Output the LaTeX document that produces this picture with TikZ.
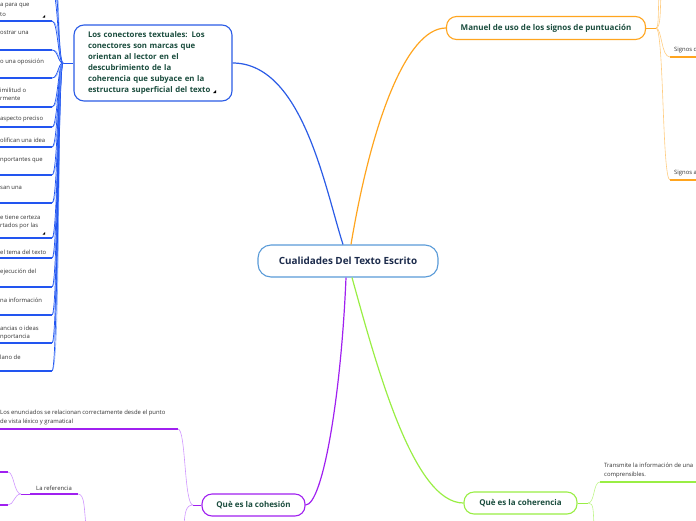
\documentclass[tikz,border=0pt]{standalone}
\usepackage{fontspec}
\setmainfont{Open Sans}
\definecolor{bdeep}{HTML}{2255F0}
\definecolor{blight}{HTML}{8AB0FF}
\definecolor{bmain}{HTML}{2B5CE6}
\definecolor{cenb}{HTML}{5A9BD8}
\definecolor{navy}{HTML}{1C2B4B}
\definecolor{ngreen}{HTML}{1B4D3E}
\definecolor{txtg}{HTML}{333333}
\definecolor{oran}{HTML}{FFA51F}
\definecolor{oranl}{HTML}{FFCC80}
\definecolor{purp}{HTML}{A020F0}
\definecolor{purpl}{HTML}{CF96FF}
\definecolor{grn}{HTML}{99EE44}
\definecolor{grnl}{HTML}{BFF58A}
\tikzset{
  topic/.style={draw, rounded corners=10pt, line width=1.1pt, fill=white,
    font=\bfseries\fontsize{8}{11}\selectfont, text=ngreen, inner sep=0pt, align=center},
  smalltxt/.style={font=\fontsize{5.9}{8.7}\selectfont, text=txtg, inner sep=0pt, anchor=west},
  under/.style={line width=1.5pt},
  thinlink/.style={line width=0.6pt},
  mainlink/.style={line width=1.2pt},
}
\begin{document}
\begin{tikzpicture}[x=1pt,y=-1pt]
\useasboundingbox (0,0) rectangle (696,520);

% ---------- central and topic nodes ----------
\node[topic, draw=cenb, text=navy, font=\bfseries\fontsize{9.9}{11}\selectfont,
  minimum width=180pt, minimum height=32pt, rounded corners=13pt] (cen) at (348,261) {Cualidades Del Texto Escrito};
\node[topic, draw=bmain, align=left, text width=130pt, inner xsep=14pt,
  minimum height=76pt, minimum width=158pt, font=\bfseries\fontsize{7.8}{11}\selectfont] (con) at (153,63)
  {Los conectores textuales: Los\\conectores son marcas que\\orientan al lector en el\\descubrimiento de la\\coherencia que subyace en la\\estructura superficial del texto};
\node[topic, draw=oran, minimum width=199pt, minimum height=23pt] (man) at (546,28) {Manuel de uso de los signos de puntuación};
\node[topic, draw=purp, minimum width=103pt, minimum height=22pt] (coh) at (253.5,505) {Què es la cohesión};
\node[topic, draw=grn, minimum width=113pt, minimum height=22pt] (coher) at (520.5,503) {Què es la coherencia};
\fill (213,93) -- (216,93) -- (216,90) -- cycle;

% ---------- main connectors ----------
\draw[mainlink, bmain] (con.east) .. controls +(70,0) and +(-18,-56) .. ([xshift=-5pt]cen.north);
\draw[mainlink, oran] ([xshift=3pt]cen.north) .. controls +(20,-120) and +(-40,0) .. (man.west);
\draw[mainlink, purp] ([xshift=-2pt]cen.south) .. controls +(-5,120) and +(17,0) .. (coh.east);
\draw[mainlink, grn] ([xshift=4pt]cen.south) .. controls +(25,90) and +(-50,0) .. (coher.west);

% ---------- left blue column ----------
\coordinate (bhub) at (63,63);
\draw[thinlink, bdeep] (bhub) -- (con.west);
\foreach \n/\u in {0/-10,00/-38,1/21,2/50,3/78,4/107,5/127,6/147,7/175,8/203,9/238,10/258,11/287,12/315,13/343,14/371}{
  \coordinate (ua\n) at (0,\u);
  \coordinate (ub\n) at (52,\u);
  \draw[under, bdeep] (ua\n) -- (ub\n);
  \draw[thinlink, blight] (ub\n) .. controls +(9,0) and +(-6,0) .. (bhub);
  \draw[line width=0.7pt, bdeep] (ub\n) .. controls +(6,0) and +(-5,0) .. (bhub);
}
\node[smalltxt] (l1a) at (0,6) {a para que};
\node[smalltxt] (l1b) at (0,15) {to};
\fill (42.5,17.5) -- (45,17.5) -- (45,15) -- cycle;
\node[smalltxt] (l2) at (0,33) {ostrar una};
\node[smalltxt] (l3) at (0,62) {o una oposición};
\node[smalltxt] (l4a) at (0,90) {imilitud o};
\node[smalltxt] (l4b) at (0,99) {rmente};
\node[smalltxt] (l5) at (0,119) {aspecto preciso};
\node[smalltxt] (l6) at (0,140) {olifican una idea};
\node[smalltxt] (l7) at (0,160) {nportantes que};
\node[smalltxt] (l8) at (0,188) {san una};
\node[smalltxt] (l9a) at (0,217) {e tiene certeza};
\node[smalltxt] (l9b) at (0,225.5) {rtados por las};
\fill (42.5,234.5) -- (45,234.5) -- (45,232) -- cycle;
\node[smalltxt] (l10) at (0,252) {el tema del texto};
\node[smalltxt] (l11) at (0,272) {ejecución del};
\node[smalltxt] (l12) at (0,300) {na información};
\node[smalltxt] (l13a) at (0,328) {ancias o ideas};
\node[smalltxt] (l13b) at (0,337) {nportancia};
\node[smalltxt] (l14) at (0,357) {lano de};

% ---------- purple (cohesion) ----------
\coordinate (phub) at (193,505);
\draw[thinlink, purp] (phub) -- (coh.west);
\coordinate (pe1a) at (0,429);
\coordinate (pe1b) at (178,429);
\draw[under, purp] (pe1a) -- (pe1b);
\draw[thinlink, purpl] (pe1b) .. controls (186,429) and (184,505) .. (phub);
\coordinate (pdown) at (184,525);
\draw[thinlink, purpl] (phub) .. controls (186,505) and (185,512) .. (pdown);
\node[smalltxt] (p1a) at (0,412.7) {Los enunciados se relacionan correctamente desde el punto};
\node[smalltxt] (p1b) at (0,421.7) {de vista léxico y gramatical};
\coordinate (pra) at (30,494);
\coordinate (prb) at (78,494);
\draw[under, purp] (pra) -- (prb);
\node[smalltxt, anchor=center] (pref) at (54,488) {La referencia};
\coordinate (prdown) at (86,525);
\draw[thinlink, purpl] (prb) .. controls (85,494) and (84,510) .. (prdown);
\coordinate (lhub) at (21,494);
\draw[thinlink, purp] (lhub) -- (pra);
\coordinate (pu1a) at (0,472);
\coordinate (pu1b) at (8,472);
\coordinate (pu2a) at (0,505);
\coordinate (pu2b) at (8,505);
\draw[under, purp] (pu1a) -- (pu1b);
\draw[under, purp] (pu2a) -- (pu2b);
\draw[thinlink, purpl] (lhub) .. controls (14,494) and (14,472) .. (pu1b);
\draw[thinlink, purpl] (lhub) .. controls (14,494) and (14,505) .. (pu2b);

% ---------- green (coherencia) ----------
\coordinate (ghub) at (588,503);
\draw[thinlink, grn] (coher.east) -- (ghub);
\coordinate (g1a) at (600,482);
\coordinate (g1b) at (700,482);
\draw[under, grn] (g1a) -- (g1b);
\draw[thinlink, grnl] (ghub) .. controls (595,503) and (593,482) .. (g1a);
\coordinate (gdown) at (594,525);
\draw[thinlink, grnl] (ghub) .. controls (594,503) and (593,510) .. (gdown);
\node[smalltxt] (gt1) at (604,465.7) {Transmite la información de una};
\node[smalltxt] (gt2) at (604,475) {comprensibles.};

% ---------- orange (signos) ----------
\coordinate (ohub) at (656,28);
\draw[thinlink, oran] (man.east) -- (ohub);
\coordinate (oup1) at (659,-5);
\coordinate (oup2) at (661,-5);
\draw[thinlink, oranl] (ohub) .. controls (659,28) and (658,10) .. (oup1);
\draw[thinlink, oranl] (ohub) .. controls (661,28) and (660,10) .. (oup2);
\coordinate (o1a) at (670,57);
\coordinate (o1b) at (700,57);
\draw[under, oran] (o1a) -- (o1b);
\draw[thinlink, oranl] (ohub) .. controls (662,28) and (661,57) .. (o1a);
\coordinate (o2a) at (670,180);
\coordinate (o2b) at (700,180);
\draw[under, oran] (o2a) -- (o2b);
\draw[thinlink, oranl] (ohub) .. controls (664,28) and (662,180) .. (o2a);
\node[smalltxt] (os1) at (674,50) {Signos d};
\node[smalltxt] (os2) at (674,173) {Signos a};
\end{tikzpicture}
\end{document}
